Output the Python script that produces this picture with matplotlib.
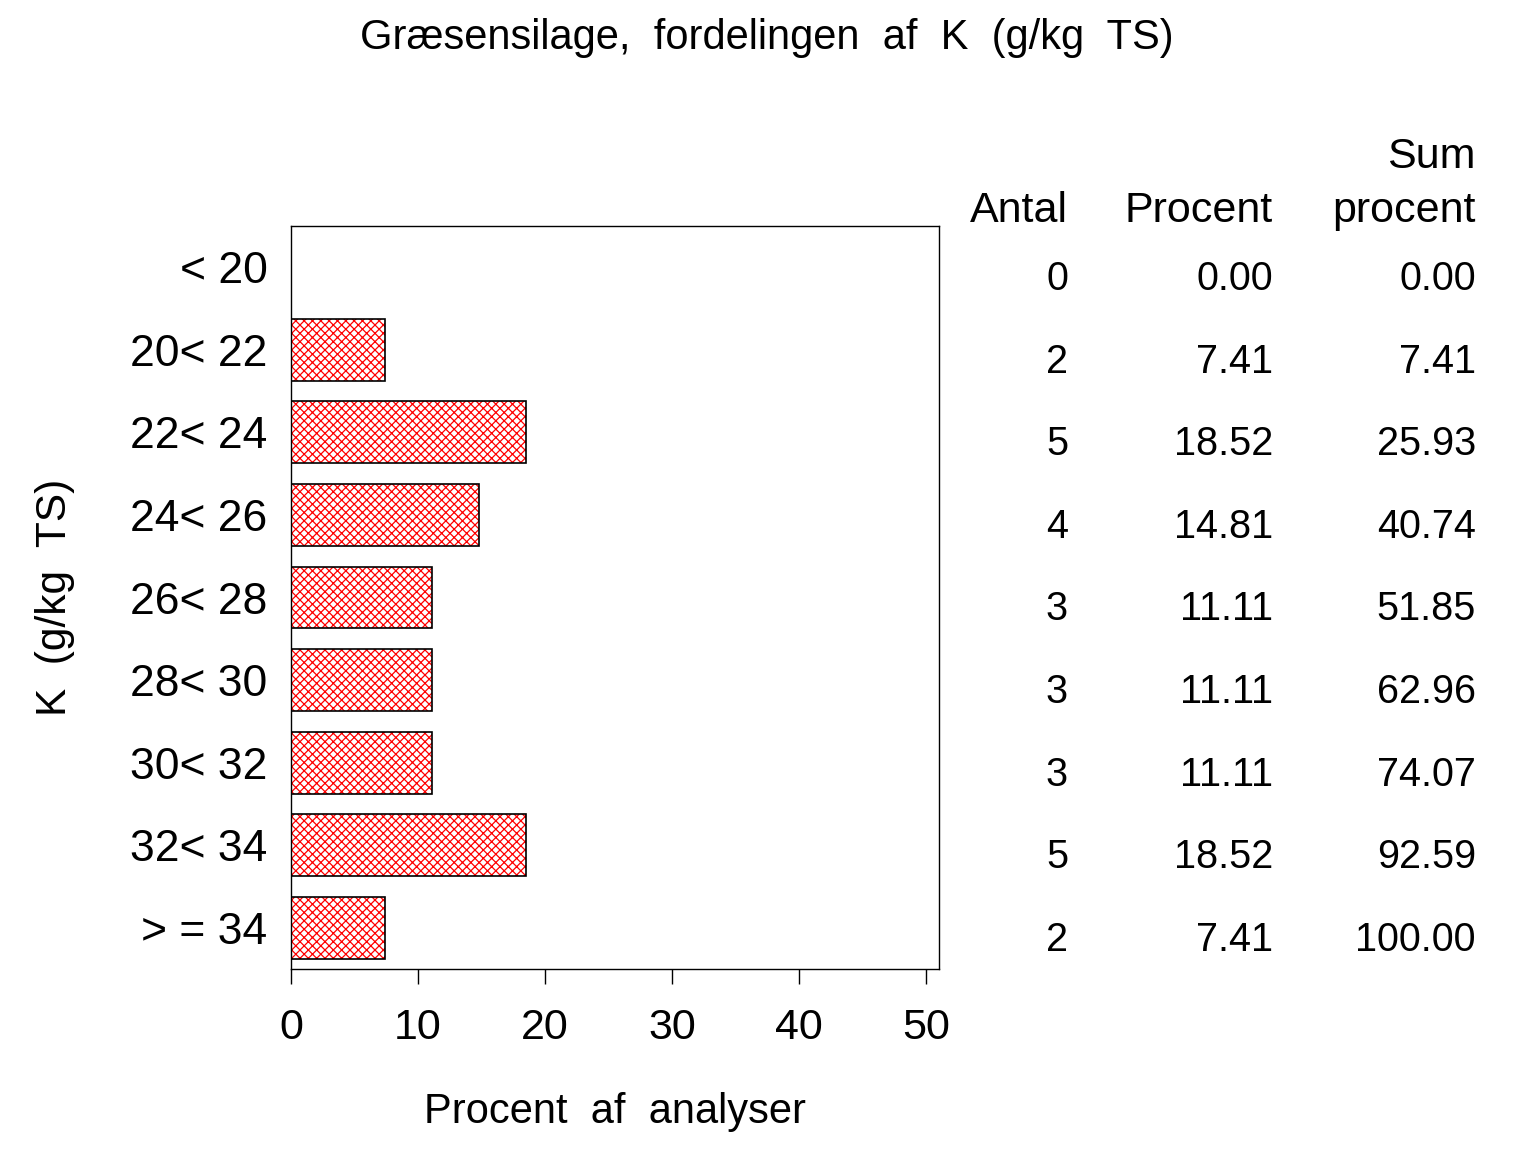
import matplotlib
matplotlib.use("Agg")
import matplotlib.pyplot as plt
import matplotlib.transforms as mtransforms

plt.rcParams['font.family'] = ['Liberation Sans', 'DejaVu Sans']
plt.rcParams['hatch.linewidth'] = 0.9

categories = ["< 20", "20< 22", "22< 24", "24< 26", "26< 28", "28< 30", "30< 32", "32< 34", "> = 34"]
antal = [0, 2, 5, 4, 3, 3, 3, 5, 2]
procent = [0.00, 7.41, 18.52, 14.81, 11.11, 11.11, 11.11, 18.52, 7.41]
sum_procent = [0.00, 7.41, 25.93, 40.74, 51.85, 62.96, 74.07, 92.59, 100.00]
xticks = [0, 10, 20, 30, 40, 50]

title = "Græsensilage,  fordelingen  af  K  (g/kg  TS)"
xlabel = "Procent  af  analyser"
ylabel = "K  (g/kg  TS)"

W, H = 1536, 1152
fig = plt.figure(figsize=(W / 100, H / 100), dpi=100)
ax = fig.add_axes([291 / W, 1 - 969 / H, (939 - 291) / W, (969 - 226) / H])

ypos = list(range(len(categories)))
ax.barh(ypos, procent, height=0.75, color='white', edgecolor='red', hatch='xxxx', linewidth=0)
ax.barh(ypos, procent, height=0.75, fill=False, edgecolor='black', linewidth=1.2)

ax.set_xlim(0, 51)
ax.set_ylim(len(categories) - 0.5, -0.5)
ax.set_xticks(xticks)
ax.set_xticklabels([str(t) for t in xticks])
ax.set_yticks(ypos)
ax.set_yticklabels(categories)
ax.tick_params(axis='x', direction='out', length=11, width=1.0, pad=17, labelsize=31)
ax.tick_params(axis='y', length=0, pad=17, labelsize=32)
for s in ax.spines.values():
    s.set_linewidth(1.0)

fig.text(767 / W, 1 - 38 / H, title, ha='center', va='center', fontsize=30)
fig.text(615 / W, 1 - 1112 / H, xlabel, ha='center', va='center', fontsize=30)
fig.text(55 / W, 1 - 597 / H, ylabel, ha='center', va='center', rotation=90, fontsize=30.5)

# table on the right
blend = mtransforms.blended_transform_factory(fig.transFigure, ax.transData)
off = mtransforms.ScaledTranslation(0, -12 / 100, fig.dpi_scale_trans)
col_x = [1068 / W, 1273 / W, 1476 / W]
for i in ypos:
    vals = [f"{antal[i]}", f"{procent[i]:.2f}", f"{sum_procent[i]:.2f}"]
    for cx, v in zip(col_x, vals):
        fig.text(cx, i, v, ha='right', va='center', fontsize=28.5, transform=blend + off)

fig.text(col_x[0], 1 - 211 / H, "Antal", ha='right', va='center', fontsize=31)
fig.text(col_x[1], 1 - 211 / H, "Procent", ha='right', va='center', fontsize=31)
fig.text(col_x[2], 1 - 211 / H, "procent", ha='right', va='center', fontsize=31)
fig.text(col_x[2], 1 - 157 / H, "Sum", ha='right', va='center', fontsize=31)

fig.savefig("out.png", dpi=100)
